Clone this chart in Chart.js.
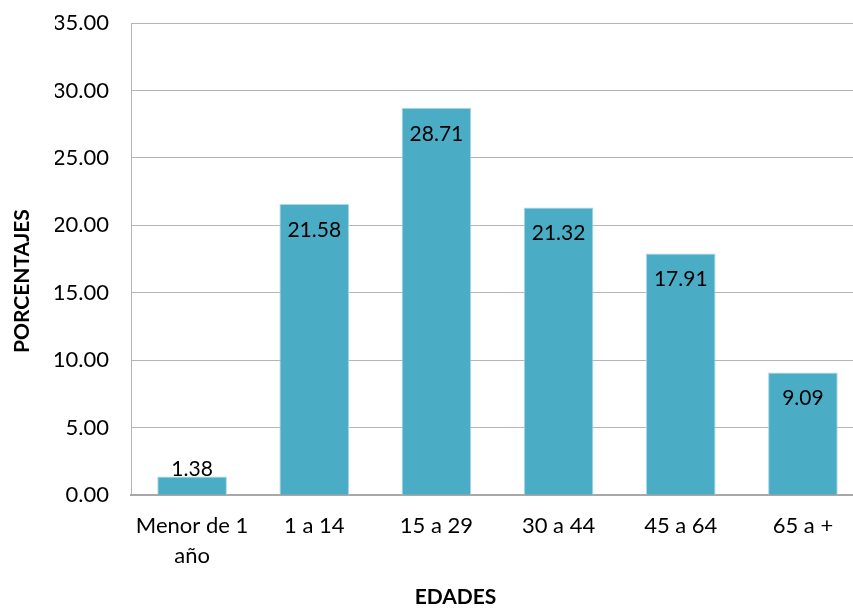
<!DOCTYPE html>
<html>
<head>
<meta charset="utf-8">
<script src="https://cdn.jsdelivr.net/npm/chart.js@4"></script>
<style>
  html, body { margin: 0; padding: 0; background: #ffffff; overflow: hidden; }
  #wrap { width: 866px; height: 609px; }
</style>
</head>
<body>
<div id="wrap"><canvas id="c" width="866" height="609"></canvas></div>
<script>
const categories = [["Menor de 1", "año"], "1 a 14", "15 a 29", "30 a 44", "45 a 64", "65 a +"];
const porcentajes = [1.38, 21.58, 28.71, 21.32, 17.91, 9.09];
const yTicks = [0, 5, 10, 15, 20, 25, 30, 35];
const xTitle = "EDADES";
const yTitle = "PORCENTAJES";

const FONT = "Lato, 'Open Sans', sans-serif";

const valueLabels = {
  id: 'valueLabels',
  afterDatasetsDraw(chart) {
    const ctx = chart.ctx;
    const meta = chart.getDatasetMeta(0);
    const base = chart.scales.y.getPixelForValue(0);
    ctx.save();
    ctx.font = "21px " + FONT;
    ctx.fillStyle = "#000000";
    ctx.textAlign = "center";
    ctx.textBaseline = "middle";
    meta.data.forEach((bar, i) => {
      const y = Math.min(bar.y + 26, base - 26);
      ctx.fillText(porcentajes[i].toFixed(2), bar.x, y);
    });
    ctx.restore();
  }
};

const axisTitles = {
  id: 'axisTitles',
  afterDraw(chart) {
    const ctx = chart.ctx;
    const a = chart.chartArea;
    ctx.save();
    ctx.font = "bold 21px " + FONT;
    ctx.fillStyle = "#000000";
    ctx.textAlign = "center";
    ctx.textBaseline = "middle";
    ctx.fillText(xTitle, (a.left + a.right) / 2 - 42, a.bottom + 102);
    ctx.translate(22, (a.top + a.bottom) / 2 + 22);
    ctx.rotate(-Math.PI / 2);
    ctx.fillText(yTitle, 0, 0);
    ctx.restore();
  }
};

new Chart(document.getElementById('c'), {
  type: 'bar',
  data: {
    labels: categories,
    datasets: [{
      data: porcentajes,
      backgroundColor: '#4BACC6',
      borderColor: '#a9d8e6',
      borderWidth: 1,
      barPercentage: 0.57,
      categoryPercentage: 1.0
    }]
  },
  options: {
    responsive: false,
    animation: false,
    layout: { padding: { top: 0, right: 2, left: 55, bottom: 22 } },
    plugins: {
      legend: { display: false },
      tooltip: { enabled: false }
    },
    scales: {
      y: {
        min: 0,
        max: 35,
        afterBuildTicks(axis) { axis.ticks = yTicks.map(v => ({ value: v })); },
        afterFit(axis) { axis.width = 76; axis.paddingTop = 23; axis.paddingBottom = 0; },
        ticks: {
          font: { family: FONT, size: 22 },
          color: '#000000',
          padding: 22,
          callback: v => Number(v).toFixed(2)
        },
        grid: { color: '#b5b5b5', lineWidth: 1, drawTicks: false },
        border: { display: true, color: '#b5b5b5', width: 1 }
      },
      x: {
        ticks: {
          font: { family: FONT, size: 22, lineHeight: 1.36 },
          color: '#000000',
          padding: 16,
          maxRotation: 0
        },
        grid: { display: false, drawTicks: false },
        border: { display: true, color: '#a8a8a8', width: 2 }
      }
    }
  },
  plugins: [valueLabels, axisTitles]
});
</script>
</body>
</html>
